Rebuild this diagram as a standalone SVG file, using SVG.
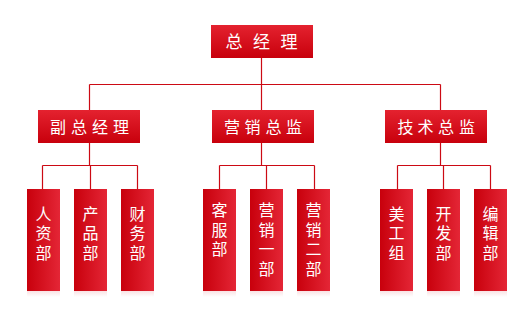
<svg xmlns="http://www.w3.org/2000/svg" width="527" height="317" viewBox="0 0 527 317">
<defs>
<linearGradient id="gv" x1="0" y1="0" x2="0" y2="1">
<stop offset="0" stop-color="#e4222f"/>
<stop offset="1" stop-color="#c8000c"/>
</linearGradient>
<linearGradient id="gh" x1="0" y1="0" x2="1" y2="0">
<stop offset="0" stop-color="#c8000c"/>
<stop offset="1" stop-color="#e42636"/>
</linearGradient>
<linearGradient id="gr" x1="0" y1="0" x2="0" y2="1">
<stop offset="0" stop-color="#d0101c" stop-opacity="0.12"/>
<stop offset="1" stop-color="#d0101c" stop-opacity="0"/>
</linearGradient>
</defs>
<style>
.conn{stroke:#cc0a14;stroke-width:1.2;fill:none}
.b1{fill:url(#gv)}
.b3{fill:url(#gh)}
.ref{fill:url(#gr)}
text{font-family:"Noto Sans CJK SC","Noto Sans",sans-serif;fill:#ffffff;text-anchor:middle}
.t1{font-size:17px}
.t2{font-size:16px}
.t3{font-size:16px;writing-mode:vertical-rl;text-orientation:upright;letter-spacing:3.5px;text-anchor:start}
</style>
<rect width="527" height="317" fill="#ffffff"/>
<g id="connectors">
<path class="conn" d="M261.5 58V84.5M89.5 84.5H440.5M89.5 84.5V110M440.5 84.5V110M261.5 84.5V110"/>
<path class="conn" d="M89.5 143V165.5M42.5 165.5H137.5M42.5 165.5V189M90.5 165.5V189M137.5 165.5V189"/>
<path class="conn" d="M261.5 143V165.5M219.5 165.5H314.5M219.5 165.5V189M266.5 165.5V189M314.5 165.5V189"/>
<path class="conn" d="M440.5 143V165.5M397.5 165.5H490.5M397.5 165.5V189M443.5 165.5V189M490.5 165.5V189"/>
</g>
<g id="n-ceo">
<rect class="b1" x="211" y="25" width="102" height="33"/>
<text class="t1" x="234 261.5 289" y="48">总经理</text>
</g>
<g id="n-vp">
<rect class="b1" x="38" y="110" width="102" height="33"/>
<text class="t2" x="58 79 100 121" y="132.5">副总经理</text>
</g>
<g id="n-mkt">
<rect class="b1" x="212" y="110" width="102" height="33"/>
<text class="t2" x="232 252.5 273.5 294" y="132.5">营销总监</text>
</g>
<g id="n-tech">
<rect class="b1" x="385" y="110" width="102" height="33"/>
<text class="t2" x="405.5 425.5 446 467" y="132.5">技术总监</text>
</g>
<g id="n-hr">
<rect class="b3" x="27" y="189" width="33" height="102"/>
<rect class="ref" x="27" y="291" width="33" height="6"/>
<text class="t3" x="43.5" y="205.5">人资部</text>
</g>
<g id="n-prod">
<rect class="b3" x="74" y="189" width="33" height="102"/>
<rect class="ref" x="74" y="291" width="33" height="6"/>
<text class="t3" x="90.5" y="205.5">产品部</text>
</g>
<g id="n-fin">
<rect class="b3" x="121" y="189" width="33" height="102"/>
<rect class="ref" x="121" y="291" width="33" height="6"/>
<text class="t3" x="137.5" y="205.5">财务部</text>
</g>
<g id="n-cs">
<rect class="b3" x="203" y="189" width="33" height="102"/>
<rect class="ref" x="203" y="291" width="33" height="6"/>
<text class="t3" x="219.5" y="202">客服部</text>
</g>
<g id="n-sales1">
<rect class="b3" x="250" y="189" width="33" height="102"/>
<rect class="ref" x="250" y="291" width="33" height="6"/>
<text class="t3" x="266.5" y="202">营销一部</text>
</g>
<g id="n-sales2">
<rect class="b3" x="297" y="189" width="33" height="102"/>
<rect class="ref" x="297" y="291" width="33" height="6"/>
<text class="t3" x="313.5" y="202">营销二部</text>
</g>
<g id="n-art">
<rect class="b3" x="380" y="189" width="33" height="102"/>
<rect class="ref" x="380" y="291" width="33" height="6"/>
<text class="t3" x="396.5" y="205.5">美工组</text>
</g>
<g id="n-dev">
<rect class="b3" x="427" y="189" width="33" height="102"/>
<rect class="ref" x="427" y="291" width="33" height="6"/>
<text class="t3" x="443.5" y="205.5">开发部</text>
</g>
<g id="n-edit">
<rect class="b3" x="474" y="189" width="33" height="102"/>
<rect class="ref" x="474" y="291" width="33" height="6"/>
<text class="t3" x="490.5" y="205.5">编辑部</text>
</g>
</svg>
